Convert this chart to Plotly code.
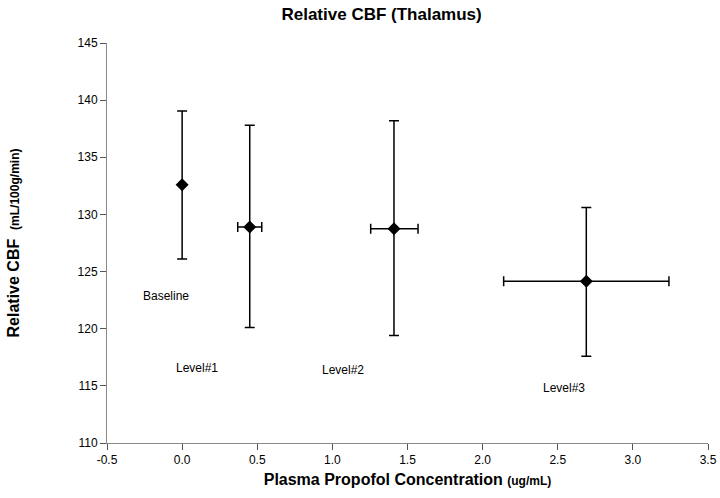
import plotly.graph_objects as go

labels = ["Baseline", "Level#1", "Level#2", "Level#3"]
conc = [0.0, 0.45, 1.41, 2.69]
conc_err_minus = [0.0, 0.08, 0.155, 0.55]
conc_err_plus = [0.0, 0.08, 0.16, 0.55]
cbf = [132.6, 128.9, 128.75, 124.15]
cbf_err_plus = [6.45, 8.9, 9.45, 6.45]
cbf_err_minus = [6.5, 8.8, 9.35, 6.55]
label_x = [-0.11, 0.1, 1.07, 2.54]
label_y = [122.9, 116.6, 116.4, 114.8]

x_ticks = [-0.5, 0.0, 0.5, 1.0, 1.5, 2.0, 2.5, 3.0, 3.5]
y_ticks = [110, 115, 120, 125, 130, 135, 140, 145]

FONT = "Liberation Sans, Arial, sans-serif"

fig = go.Figure()
fig.add_trace(go.Scatter(
    x=conc, y=cbf, mode="markers",
    marker=dict(symbol="diamond", size=10, color="black"),
    error_y=dict(type="data", symmetric=False, array=cbf_err_plus,
                 arrayminus=cbf_err_minus, color="black", thickness=1.5, width=5),
    error_x=dict(type="data", symmetric=False, array=conc_err_plus,
                 arrayminus=conc_err_minus, color="black", thickness=1.5, width=5),
    showlegend=False,
))

for lx, ly, t in zip(label_x, label_y, labels):
    fig.add_annotation(x=lx, y=ly, text=t, showarrow=False,
                       font=dict(family=FONT, size=12, color="black"))

fig.update_layout(
    width=720, height=498,
    margin=dict(l=107, r=12, t=43, b=55, autoexpand=False),
    paper_bgcolor="white", plot_bgcolor="white",
    font=dict(family=FONT, color="black"),
    title=dict(text="<b>Relative CBF (Thalamus)</b>", x=0.53, xanchor="center",
               y=0.972, yanchor="middle", font=dict(family=FONT, size=17)),
    xaxis=dict(range=[-0.5, 3.5], tickvals=x_ticks,
               ticktext=[f"{v:.1f}" for v in x_ticks],
               showgrid=False, zeroline=False, showline=True, linecolor="#888",
               linewidth=1, ticks="outside", ticklen=6, tickcolor="#555",
               tickfont=dict(size=12), automargin=False,
               title=dict(text="<b>Plasma Propofol Concentration <span style='font-size:12px'>(ug/mL)</span></b>",
                          font=dict(size=16), standoff=7)),
    yaxis=dict(range=[110, 145], tickvals=y_ticks,
               showgrid=False, zeroline=False, showline=True, linecolor="#888",
               linewidth=1, ticks="outside", ticklen=6, tickcolor="#555",
               tickfont=dict(size=12), automargin=False,
               title=dict(text="<b>Relative CBF  <span style='font-size:12px'>(mL/100g/min)</span></b>",
                          font=dict(size=16), standoff=53)),
)

fig.write_html("out.html", config={"displayModeBar": False},
               post_script="document.body.style.margin='0';")
